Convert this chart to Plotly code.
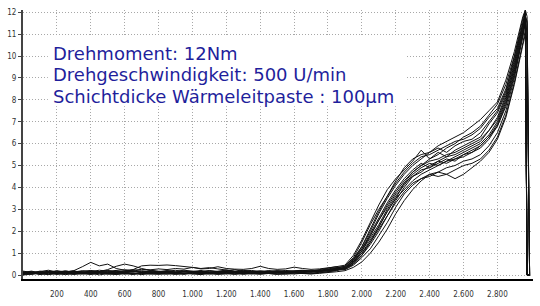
import plotly.graph_objects as go

# sample positions (x) shared by all curves
x_vals = [0, 50, 100, 150, 200, 250, 300, 350, 400, 450,
          500, 550, 600, 650, 700, 750, 800, 850, 900, 950,
          1000, 1050, 1100, 1150, 1200, 1250, 1300, 1350, 1400, 1450,
          1500, 1550, 1600, 1650, 1700, 1750, 1800, 1850,
          1900, 1950, 2000, 2050, 2100, 2150, 2200, 2250, 2300, 2350,
          2400, 2450, 2500, 2550, 2600, 2650, 2700, 2750, 2800, 2850,
          2900, 2950, 2965, 2975, 2990]

# flat part (x = 0 .. 1850)
flat_1 = [0.12, 0.05, 0.10, 0.14, 0.08, 0.15, 0.20, 0.38, 0.58, 0.42,
          0.50, 0.30, 0.22, 0.18, 0.12, 0.16, 0.10, 0.14, 0.12, 0.17,
          0.11, 0.15, 0.09, 0.13, 0.16, 0.12, 0.14, 0.10, 0.15, 0.13,
          0.17, 0.12, 0.14, 0.16, 0.19, 0.18, 0.22, 0.28]
flat_2 = [0.08, 0.14, 0.06, 0.11, 0.09, 0.13, 0.10, 0.15, 0.12, 0.16,
          0.25, 0.40, 0.50, 0.42, 0.30, 0.22, 0.18, 0.15, 0.13, 0.16,
          0.12, 0.10, 0.14, 0.11, 0.15, 0.13, 0.12, 0.16, 0.10, 0.14,
          0.12, 0.15, 0.13, 0.17, 0.15, 0.20, 0.24, 0.30]
flat_3 = [0.05, 0.10, 0.07, 0.12, 0.06, 0.11, 0.08, 0.13, 0.10, 0.09,
          0.12, 0.10, 0.15, 0.25, 0.42, 0.45, 0.44, 0.46, 0.43, 0.40,
          0.35, 0.30, 0.34, 0.28, 0.22, 0.18, 0.16, 0.14, 0.18, 0.15,
          0.13, 0.17, 0.15, 0.18, 0.20, 0.22, 0.28, 0.35]
flat_4 = [0.10, 0.12, 0.08, 0.15, 0.12, 0.18, 0.14, 0.20, 0.16, 0.22,
          0.18, 0.20, 0.24, 0.22, 0.26, 0.24, 0.28, 0.25, 0.30, 0.27,
          0.35, 0.28, 0.30, 0.38, 0.30, 0.27, 0.26, 0.30, 0.40, 0.30,
          0.26, 0.28, 0.36, 0.30, 0.26, 0.28, 0.32, 0.38]
flat_5 = [0.02, 0.08, 0.04, 0.10, 0.03, 0.07, 0.05, 0.09, 0.04, 0.08,
          0.06, 0.03, 0.09, 0.05, 0.08, 0.04, 0.07, 0.10, 0.05, 0.08,
          0.06, 0.09, 0.04, 0.07, 0.10, 0.05, 0.08, 0.06, 0.09, 0.07,
          0.05, 0.08, 0.10, 0.07, 0.09, 0.12, 0.15, 0.22]
flat_6 = [0.15, 0.09, 0.18, 0.12, 0.20, 0.14, 0.17, 0.11, 0.19, 0.15,
          0.21, 0.13, 0.18, 0.16, 0.12, 0.19, 0.15, 0.20, 0.14, 0.18,
          0.16, 0.21, 0.13, 0.17, 0.19, 0.15, 0.22, 0.16, 0.18, 0.14,
          0.20, 0.17, 0.19, 0.22, 0.18, 0.24, 0.30, 0.38]
flat_7 = [0.06, 0.12, 0.02, 0.09, 0.05, 0.11, 0.03, 0.08, 0.06, 0.12,
          0.04, 0.09, 0.07, 0.02, 0.10, 0.06, 0.04, 0.09, 0.07, 0.03,
          0.08, 0.05, 0.10, 0.04, 0.06, 0.09, 0.03, 0.07, 0.05, 0.08,
          0.06, 0.04, 0.09, 0.07, 0.05, 0.08, 0.10, 0.15]
flat_8 = [0.10, 0.16, 0.07, 0.13, 0.18, 0.09, 0.14, 0.10, 0.17, 0.12,
          0.08, 0.15, 0.11, 0.18, 0.13, 0.09, 0.16, 0.12, 0.10, 0.15,
          0.13, 0.18, 0.10, 0.14, 0.12, 0.17, 0.11, 0.15, 0.13, 0.19,
          0.14, 0.11, 0.16, 0.13, 0.18, 0.16, 0.20, 0.26]
flat_9 = [0.00, 0.05, 0.09, 0.03, 0.07, 0.02, 0.06, 0.04, 0.08, 0.01,
          0.06, 0.03, 0.05, 0.08, 0.02, 0.07, 0.04, 0.06, 0.03, 0.09,
          0.05, 0.02, 0.07, 0.04, 0.06, 0.03, 0.08, 0.05, 0.04, 0.07,
          0.03, 0.06, 0.05, 0.08, 0.06, 0.10, 0.14, 0.20]
flat_10 = [0.14, 0.08, 0.12, 0.17, 0.10, 0.14, 0.19, 0.12, 0.10, 0.16,
           0.13, 0.18, 0.10, 0.15, 0.20, 0.14, 0.11, 0.17, 0.22, 0.15,
           0.12, 0.16, 0.20, 0.14, 0.18, 0.25, 0.16, 0.13, 0.18, 0.15,
           0.19, 0.14, 0.17, 0.20, 0.15, 0.18, 0.21, 0.25]
flat_11 = [0.08, 0.03, 0.11, 0.06, 0.14, 0.09, 0.05, 0.12, 0.08, 0.13,
           0.10, 0.07, 0.12, 0.09, 0.05, 0.11, 0.08, 0.13, 0.09, 0.06,
           0.11, 0.08, 0.12, 0.07, 0.10, 0.13, 0.09, 0.06, 0.11, 0.09,
           0.12, 0.10, 0.13, 0.11, 0.15, 0.18, 0.24, 0.32]
flat_12 = [0.18, 0.12, 0.16, 0.22, 0.14, 0.19, 0.13, 0.17, 0.21, 0.15,
           0.19, 0.14, 0.18, 0.24, 0.16, 0.20, 0.15, 0.19, 0.17, 0.22,
           0.18, 0.15, 0.20, 0.17, 0.23, 0.16, 0.19, 0.21, 0.16, 0.20,
           0.17, 0.21, 0.18, 0.20, 0.17, 0.19, 0.22, 0.26]
flat_13 = [0.04, 0.10, 0.06, 0.02, 0.09, 0.05, 0.11, 0.07, 0.03, 0.10,
           0.07, 0.12, 0.05, 0.09, 0.06, 0.11, 0.08, 0.04, 0.10, 0.07,
           0.12, 0.06, 0.09, 0.05, 0.11, 0.08, 0.06, 0.10, 0.07, 0.12,
           0.09, 0.13, 0.10, 0.14, 0.13, 0.17, 0.22, 0.30]
flat_14 = [0.12, 0.18, 0.10, 0.15, 0.08, 0.13, 0.17, 0.09, 0.14, 0.11,
           0.16, 0.10, 0.14, 0.19, 0.11, 0.15, 0.12, 0.18, 0.10, 0.14,
           0.17, 0.11, 0.15, 0.13, 0.16, 0.12, 0.19, 0.14, 0.11, 0.16,
           0.13, 0.17, 0.14, 0.12, 0.16, 0.18, 0.20, 0.27]

# rising part (x = 1900 .. 2990)
rise_1 = [0.35, 0.7, 1.2, 1.8, 2.5, 3.2, 3.8, 4.3, 4.7, 5.0, 5.2, 5.3, 5.5, 5.6, 5.8, 6.0, 6.2, 6.6, 7.2, 8.2, 9.6, 11.3, 12.0, 0, 0]
rise_2 = [0.3, 0.5, 0.9, 1.4, 2.0, 2.7, 3.4, 4.0, 4.5, 4.8, 4.9, 5.1, 5.3, 5.2, 5.5, 5.7, 5.9, 6.3, 6.9, 7.9, 9.3, 11.0, 11.8, 11.5, 0]
rise_3 = [0.4, 0.8, 1.5, 2.3, 3.0, 3.6, 4.2, 4.7, 5.1, 5.4, 5.5, 5.7, 5.9, 6.1, 6.2, 6.4, 6.7, 7.2, 7.6, 8.5, 9.8, 11.6, 12.0, 0, 0]
rise_4 = [0.25, 0.45, 0.8, 1.2, 1.8, 2.4, 3.1, 3.7, 4.1, 4.4, 4.6, 4.7, 4.9, 5.0, 5.2, 5.3, 5.5, 5.9, 6.5, 7.5, 9.0, 10.8, 11.5, 10.5, 0]
rise_5 = [0.3, 0.6, 1.1, 1.7, 2.3, 3.0, 3.6, 4.1, 4.6, 4.9, 5.1, 5.0, 5.2, 5.4, 5.6, 5.8, 6.0, 6.4, 7.0, 8.0, 9.5, 11.2, 11.9, 0, 0]
rise_6 = [0.45, 0.9, 1.6, 2.4, 3.2, 3.9, 4.4, 4.8, 5.2, 5.7, 5.3, 5.5, 5.8, 6.0, 6.3, 6.5, 6.8, 7.3, 7.8, 8.7, 10.0, 11.7, 12.1, 11.8, 0]
rise_7 = [0.2, 0.35, 0.6, 1.0, 1.5, 2.1, 2.8, 3.4, 3.9, 4.3, 4.6, 4.5, 4.6, 4.8, 5.0, 5.1, 5.3, 5.7, 6.3, 7.3, 8.8, 10.6, 11.2, 0, 0]
rise_8 = [0.3, 0.55, 1.0, 1.6, 2.2, 2.9, 3.5, 4.2, 4.7, 5.0, 5.3, 5.6, 5.4, 5.7, 5.9, 6.1, 6.3, 6.9, 7.4, 8.3, 9.7, 11.4, 12.0, 0, 0]
rise_9 = [0.35, 0.65, 1.2, 1.9, 2.6, 3.3, 3.9, 4.4, 4.8, 5.1, 4.9, 5.2, 5.4, 5.5, 5.7, 5.9, 6.1, 6.6, 7.1, 8.1, 9.4, 11.1, 11.7, 11.0, 0]
rise_10 = [0.25, 0.5, 0.9, 1.5, 2.2, 2.9, 3.5, 3.9, 4.3, 4.6, 4.8, 5.0, 5.2, 5.3, 5.4, 5.6, 5.8, 6.2, 6.8, 7.8, 9.2, 10.9, 11.6, 0, 0]
rise_11 = [0.4, 0.75, 1.3, 2.0, 2.8, 3.5, 4.1, 4.6, 5.0, 5.3, 5.6, 5.8, 5.6, 5.9, 6.1, 6.2, 6.5, 7.0, 7.5, 8.4, 9.9, 11.5, 12.0, 0, 0]
rise_12 = [0.3, 0.6, 1.0, 1.5, 2.1, 2.7, 3.3, 3.8, 4.2, 4.4, 4.5, 4.7, 4.6, 4.4, 4.6, 4.9, 5.2, 5.6, 6.2, 7.2, 8.7, 10.5, 11.0, 0, 0]
rise_13 = [0.35, 0.7, 1.3, 2.1, 2.9, 3.6, 4.3, 4.9, 5.3, 5.5, 5.6, 5.9, 6.1, 6.3, 6.5, 6.8, 7.1, 7.5, 7.9, 8.9, 10.2, 11.8, 12.1, 0, 0]
rise_14 = [0.3, 0.6, 1.1, 1.8, 2.5, 3.1, 3.7, 4.2, 4.5, 4.7, 5.0, 5.2, 5.1, 5.3, 5.5, 5.6, 5.9, 6.3, 6.8, 7.7, 9.1, 11.0, 11.8, 11.6, 0]

flats = [flat_1, flat_2, flat_3, flat_4, flat_5, flat_6, flat_7,
         flat_8, flat_9, flat_10, flat_11, flat_12, flat_13, flat_14]
rises = [rise_1, rise_2, rise_3, rise_4, rise_5, rise_6, rise_7,
         rise_8, rise_9, rise_10, rise_11, rise_12, rise_13, rise_14]

x_tickvals = [200, 400, 600, 800, 1000, 1200, 1400, 1600, 1800, 2000, 2200, 2400, 2600, 2800]
x_ticktext = ["200", "400", "600", "800", "1.000", "1.200", "1.400", "1.600",
              "1.800", "2.000", "2.200", "2.400", "2.600", "2.800"]
y_tickvals = [0, 1, 2, 3, 4, 5, 6, 7, 8, 9, 10, 11, 12]

info_lines = ["Drehmoment: 12Nm",
              "Drehgeschwindigkeit: 500 U/min",
              "Schichtdicke Wärmeleitpaste : 100µm"]

fig = go.Figure()
for f, r in zip(flats, rises):
    y = f + r
    assert len(y) == len(x_vals), (len(f), len(r))
    fig.add_trace(go.Scatter(x=x_vals, y=y, mode="lines",
                             line=dict(color="#111111", width=1),
                             showlegend=False, hoverinfo="skip"))

tick_font = dict(family="Liberation Sans Narrow, DejaVu Sans Condensed, sans-serif",
                 size=8, color="#333333")
grid_style = dict(showgrid=True, gridcolor="#a8a8a8", griddash="1px,2px", gridwidth=1)

fig.update_layout(
    width=540, height=306,
    margin=dict(l=20, r=7, t=10, b=22),
    paper_bgcolor="white", plot_bgcolor="white",
    showlegend=False,
    xaxis=dict(range=[0, 3010], tickvals=x_tickvals, ticktext=x_ticktext,
               zeroline=False, showline=True, linecolor="#000000", linewidth=2,
               ticks="", tickfont=tick_font, ticklabelstandoff=6, **grid_style),
    yaxis=dict(range=[-0.18, 12.1], tickvals=y_tickvals,
               zeroline=False, showline=True, linecolor="#444444", linewidth=2,
               ticks="outside", ticklen=3, tickcolor="#444444",
               tickfont=tick_font, **grid_style),
)

# white box behind the info text (hides the grid there)
fig.add_shape(type="rect", xref="paper", yref="paper",
              x0=0.0487, x1=0.752, y0=0.642, y1=0.901,
              fillcolor="white", line=dict(width=0), layer="above")

y_positions = [0.839, 0.760, 0.680]
for txt, yp in zip(info_lines, y_positions):
    fig.add_annotation(text=txt, xref="paper", yref="paper",
                       x=0.0556, y=yp, xanchor="left", yanchor="middle",
                       showarrow=False,
                       font=dict(family="DejaVu Sans, Verdana, sans-serif",
                                 size=18, color="#1f1f9c"))

fig.write_html("out.html")
